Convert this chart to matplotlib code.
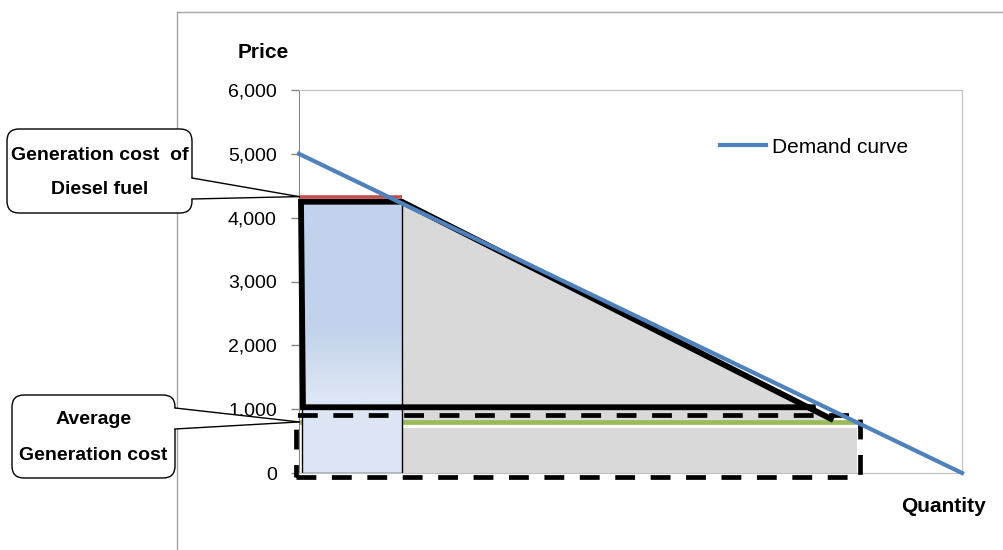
import numpy as np
import matplotlib
matplotlib.use("Agg")
import matplotlib.pyplot as plt
from matplotlib.patches import Rectangle, Polygon, FancyBboxPatch
from matplotlib.ticker import FuncFormatter
from matplotlib.colors import to_rgb

plt.rcParams['font.family'] = ['Liberation Sans', 'DejaVu Sans']

# ---- data ----
price_ticks = [0, 1000, 2000, 3000, 4000, 5000, 6000]

demand_q = [0, 100]
demand_p = [5000, 0]

diesel_cost = 4330          # generation cost of diesel fuel
diesel_q = [0, 15.5]

avg_cost = 800              # average generation cost
avg_q = [0, 84]

# outline of the surplus area (thick black)
outline_q = [77.5, 0.6, 0.3, 15.5, 80.2]
outline_p = [1030, 1030, 4250, 4250, 850]

# blue block (diesel supplied quantity)
block_q = [0.5, 15.5]
block_top = 4250

# grey areas
grey_upper_q = [15.5, 80.5, 80.5, 15.5]
grey_upper_p = [4250, 850, 800, 800]
grey_lower_q = [15.5, 84.2]
grey_lower_top = 705

# dashed box around average cost area
dash_q = [-0.45, 84.6]
dash_p = [-63, 909]

W, H = 1004, 550
fig = plt.figure(figsize=(W / 100, H / 100), dpi=100)
ax = fig.add_axes([299 / W, 77 / H, 663 / W, 383 / H])

ax.set_xlim(0, 100)
ax.set_ylim(0, 6000)

# grey fills
ax.add_patch(Polygon(list(zip(grey_upper_q, grey_upper_p)), closed=True,
                     fc='#d9d9d9', ec='none', zorder=1))
ax.add_patch(Rectangle((grey_lower_q[0], 0), grey_lower_q[1] - grey_lower_q[0],
                       grey_lower_top, fc='#d9d9d9', ec='none', zorder=1))

# average generation cost
ax.plot(avg_q, [avg_cost, avg_cost], color='#9bbb59', lw=3.4, zorder=2,
        solid_capstyle='butt')

# blue block with vertical gradient
top_c = np.array(to_rgb('#c2d2ec'))
bot_c = np.array(to_rgb('#dde6f4'))
pv = np.linspace(block_top, 0, 200)
t = np.clip((pv - 1200) / (2300 - 1200), 0, 1)[:, None]
grad = (bot_c + (top_c - bot_c) * t)[:, None, :]
ax.imshow(grad, extent=(block_q[0], block_q[1], 0, block_top),
          aspect='auto', zorder=3, interpolation='bilinear')
ax.add_patch(Rectangle((block_q[0], 0), block_q[1] - block_q[0], block_top,
                       fc='none', ec='black', lw=1, zorder=3.5))
ax.set_xlim(0, 100)
ax.set_ylim(0, 6000)

# dashed box
ax.add_patch(Rectangle((dash_q[0], dash_p[0]), dash_q[1] - dash_q[0],
                       dash_p[1] - dash_p[0], fc='none', ec='black', lw=3.4,
                       linestyle=(0, (4.2, 3.3)), joinstyle='round',
                       zorder=4, clip_on=False))

# thick outline of the area
ax.plot(outline_q, outline_p, color='black', lw=4.2, zorder=5,
        solid_joinstyle='miter', clip_on=False)

# diesel cost line
ax.plot(diesel_q, [diesel_cost, diesel_cost], color='#c0504d', lw=2.6,
        zorder=5, solid_capstyle='butt')

# demand curve
ax.plot(demand_q, demand_p, color='#4f81bd', lw=3, zorder=6,
        label='Demand curve', clip_on=False)

# axes styling
for side in ['top', 'right', 'bottom']:
    ax.spines[side].set_color('#bfbfbf')
ax.spines['left'].set_color('#868686')
ax.set_xticks([])
ax.set_yticks(price_ticks)
ax.yaxis.set_major_formatter(FuncFormatter(lambda v, p: f'{int(v):,}'))
ax.tick_params(axis='y', direction='out', length=6, width=1,
               color='#868686', labelsize=14, pad=10)

ax.legend(loc='center left', bbox_to_anchor=(720 / W, 1 - 147 / H),
          bbox_transform=fig.transFigure, frameon=False, fontsize=15,
          handlelength=2.2, handletextpad=0.3, borderpad=0,
          borderaxespad=0)

fig.text(263 / W, 1 - 53 / H, 'Price', ha='center', va='center',
         fontsize=15, fontweight='bold')
fig.text(944 / W, 1 - 507 / H, 'Quantity', ha='center', va='center',
         fontsize=15, fontweight='bold')

# overlay in pixel units for the frame and the callouts
ov = fig.add_axes([0, 0, 1, 1])
ov.set_xlim(0, W)
ov.set_ylim(H, 0)
ov.axis('off')

ov.plot([177, 177], [12, H], color='#a6a6a6', lw=1, zorder=0)
ov.plot([177, W], [12, 12], color='#a6a6a6', lw=1, zorder=0)


def to_px(q, p):
    x, y = ax.transData.transform((q, p))
    return x, H - y


def callout(box, notch, tip, lines, line_y):
    x0, y0, x1, y1 = box
    ov.add_patch(FancyBboxPatch((x0, y0), x1 - x0, y1 - y0,
                                boxstyle='round,pad=0,rounding_size=12',
                                fc='white', ec='black', lw=1, zorder=2))
    ov.add_patch(Polygon([(x1 - 1.5, notch[0]), tip, (x1 - 1.5, notch[1])],
                         closed=True, fc='white', ec='none', zorder=3))
    for ny in notch:
        ov.plot([x1, tip[0]], [ny, tip[1]], color='black', lw=1, zorder=4)
    cx = (x0 + x1) / 2
    for txt, ty in zip(lines, line_y):
        ov.text(cx, ty, txt, ha='center', va='center', fontsize=14,
                fontweight='bold', zorder=5)


callout((7, 129, 192, 213), (178, 199), to_px(0, diesel_cost),
        ['Generation cost  of', 'Diesel fuel'], [155, 190])
callout((12, 395, 175, 478), (408, 429), to_px(0, avg_cost),
        ['Average', 'Generation cost'], [420, 456])

fig.savefig('out.png', dpi=100)
